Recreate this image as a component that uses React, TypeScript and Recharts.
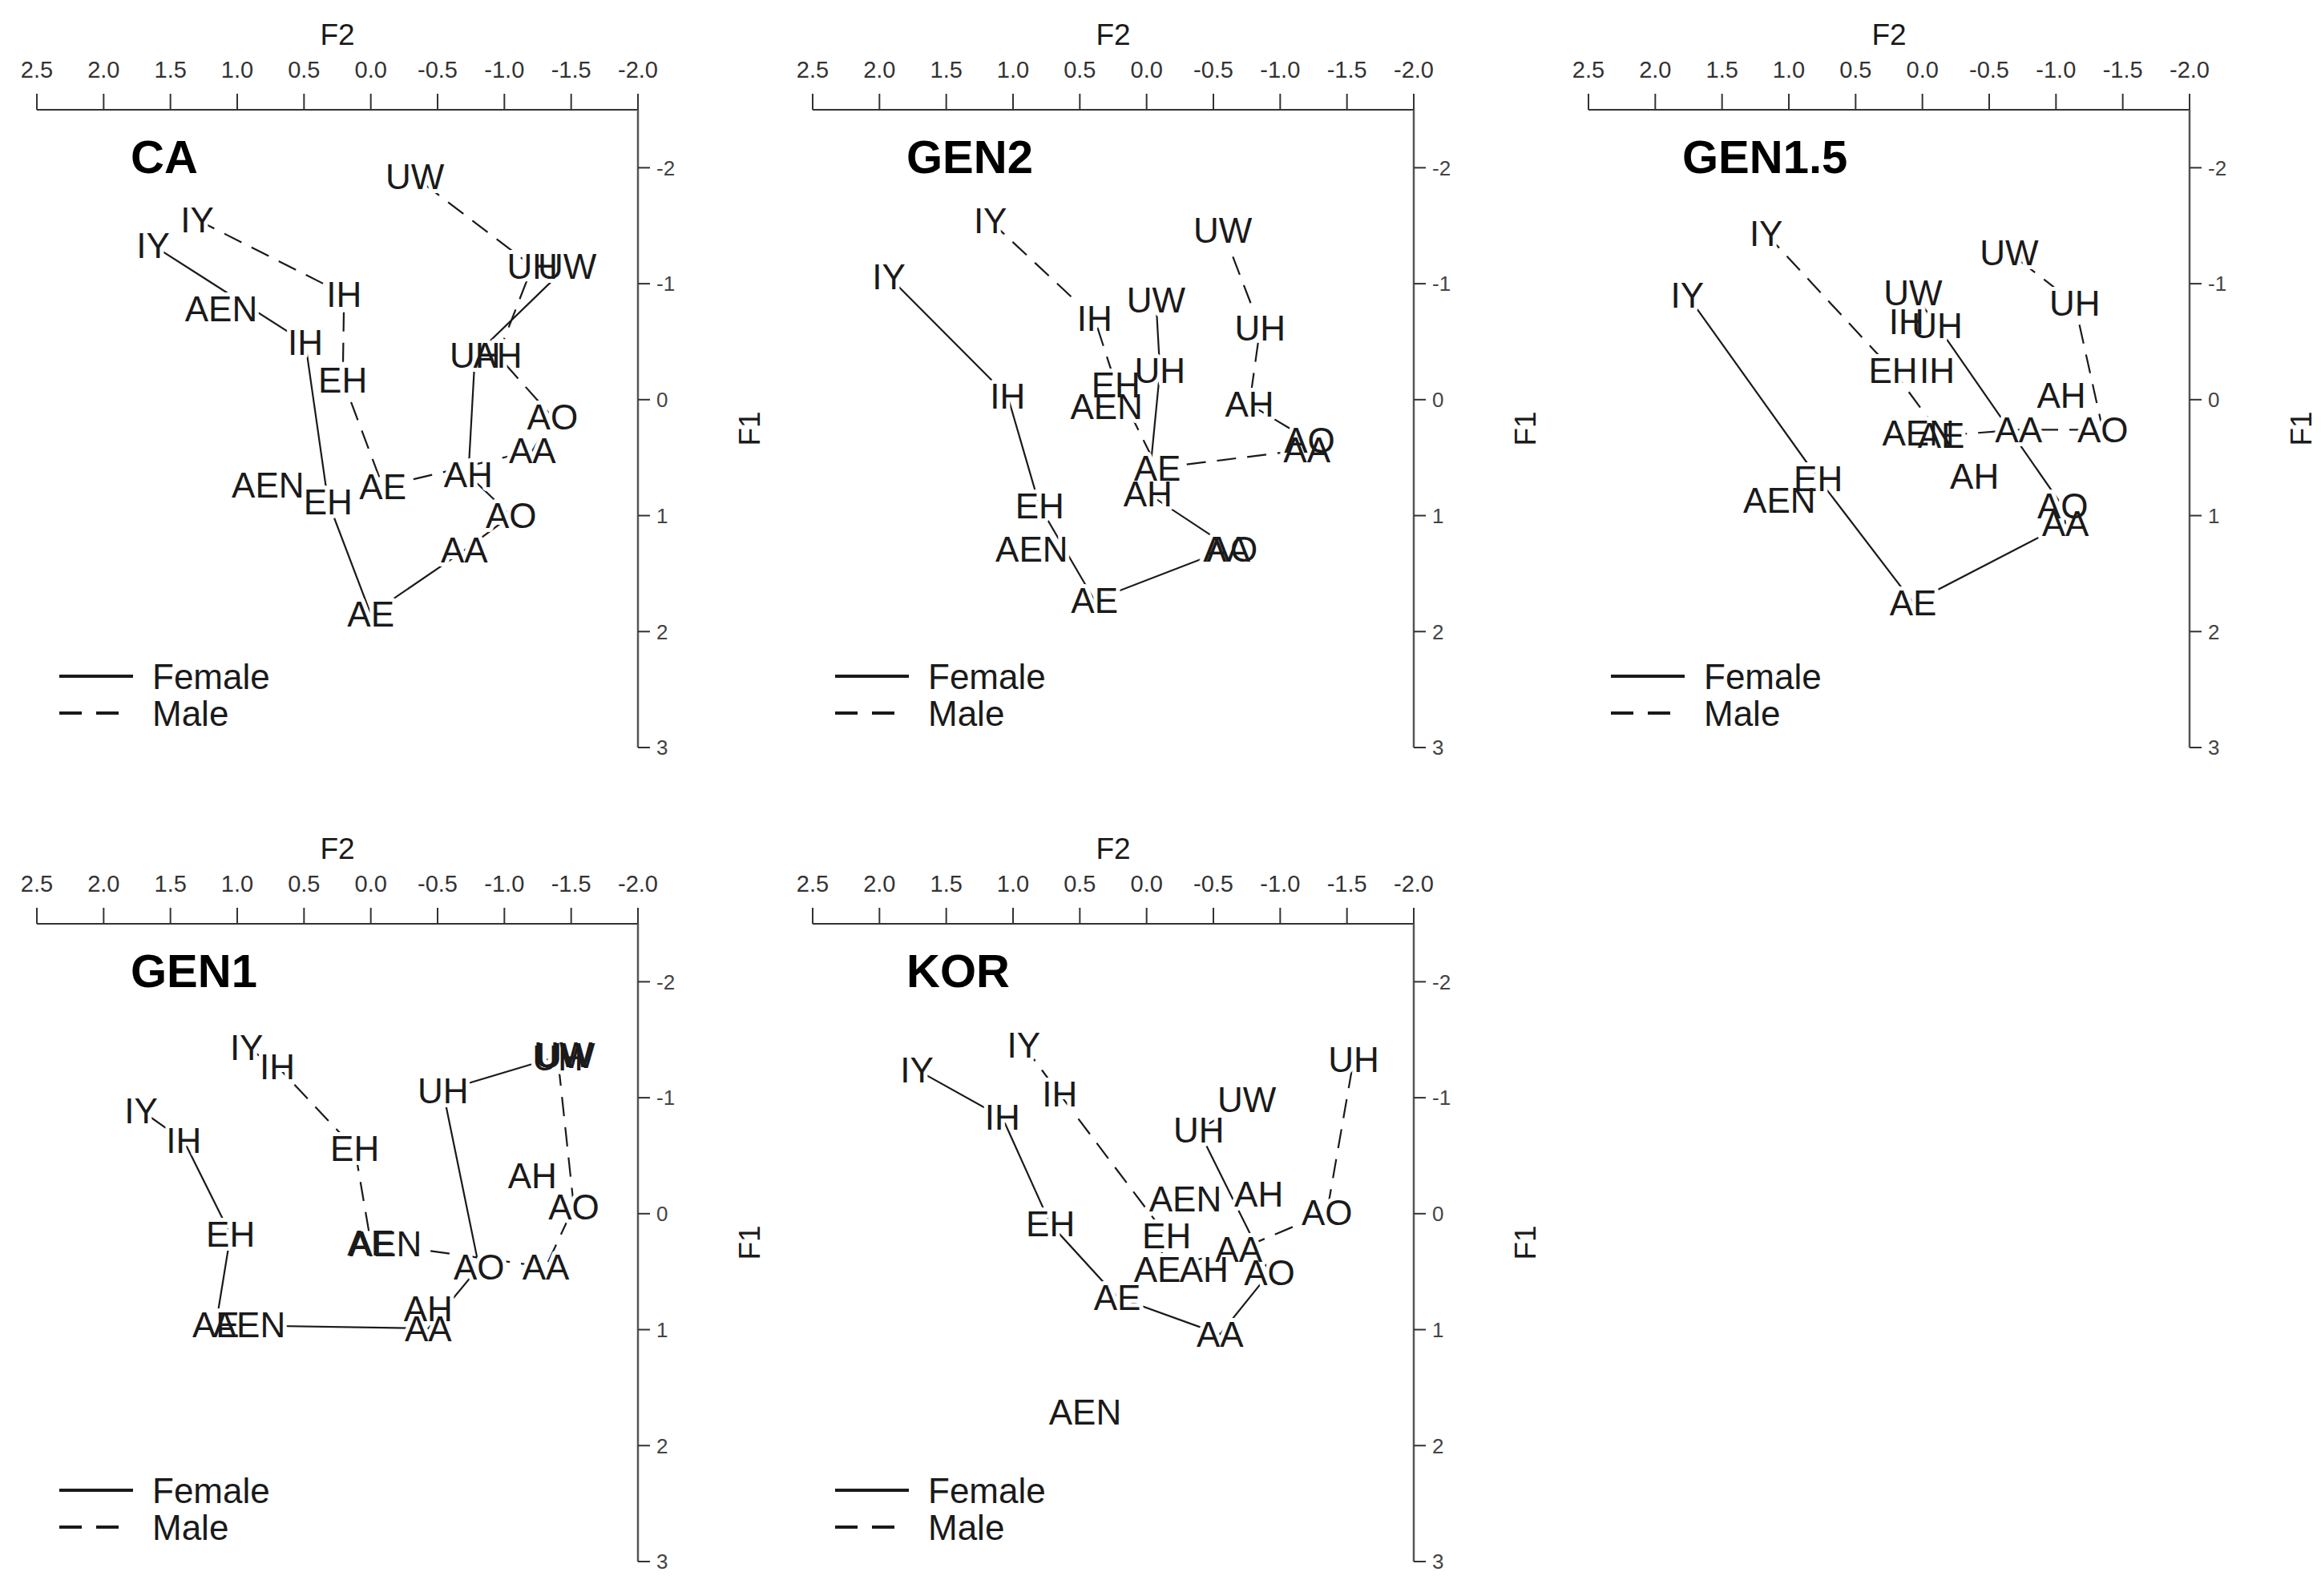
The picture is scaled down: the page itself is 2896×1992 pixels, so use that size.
import React from "react";
import { ScatterChart, Scatter, XAxis, YAxis } from "recharts";

interface Vowel {
  v: string;
  f2: number;
  f1: number;
}

const F2_TICKS = [2.5, 2.0, 1.5, 1.0, 0.5, 0.0, -0.5, -1.0, -1.5, -2.0];
const F1_TICKS = [-2, -1, 0, 1, 2, 3];

// vowel order used to draw the polygons
const PATH_ALL = ["IY", "IH", "EH", "AE", "AA", "AO", "AH", "UH", "UW"];
const PATH_NO_AH = ["IY", "IH", "EH", "AE", "AA", "AO", "UH", "UW"];
const PATH_NO_IH_AH = ["IY", "EH", "AE", "AA", "AO", "UH", "UW"];
const PATH_NO_AH_UW = ["IY", "IH", "EH", "AE", "AA", "AO", "UH"];

const CA_FEMALE: Vowel[] = [
  { v: "IY", f2: 1.63, f1: -1.33 },
  { v: "IH", f2: 0.49, f1: -0.49 },
  { v: "EH", f2: 0.32, f1: 0.88 },
  { v: "AE", f2: 0.0, f1: 1.85 },
  { v: "AA", f2: -0.7, f1: 1.3 },
  { v: "AO", f2: -1.05, f1: 1.0 },
  { v: "AH", f2: -0.73, f1: 0.65 },
  { v: "UH", f2: -0.78, f1: -0.38 },
  { v: "UW", f2: -1.47, f1: -1.15 },
  { v: "AEN", f2: 1.12, f1: -0.78 },
];
const CA_MALE: Vowel[] = [
  { v: "IY", f2: 1.3, f1: -1.55 },
  { v: "IH", f2: 0.2, f1: -0.91 },
  { v: "EH", f2: 0.21, f1: -0.17 },
  { v: "AE", f2: -0.09, f1: 0.75 },
  { v: "AA", f2: -1.21, f1: 0.44 },
  { v: "AO", f2: -1.36, f1: 0.15 },
  { v: "AH", f2: -0.95, f1: -0.38 },
  { v: "UH", f2: -1.21, f1: -1.15 },
  { v: "UW", f2: -0.33, f1: -1.92 },
  { v: "AEN", f2: 0.77, f1: 0.74 },
];

const GEN2_FEMALE: Vowel[] = [
  { v: "IY", f2: 1.93, f1: -1.06 },
  { v: "IH", f2: 1.04, f1: -0.03 },
  { v: "EH", f2: 0.8, f1: 0.92 },
  { v: "AE", f2: 0.39, f1: 1.73 },
  { v: "AA", f2: -0.6, f1: 1.29 },
  { v: "AO", f2: -0.64, f1: 1.29 },
  { v: "AH", f2: -0.01, f1: 0.81 },
  { v: "UH", f2: -0.1, f1: -0.25 },
  { v: "UW", f2: -0.07, f1: -0.86 },
  { v: "AEN", f2: 0.86, f1: 1.29 },
];
const GEN2_MALE: Vowel[] = [
  { v: "IY", f2: 1.17, f1: -1.54 },
  { v: "IH", f2: 0.39, f1: -0.7 },
  { v: "EH", f2: 0.23, f1: -0.13 },
  { v: "AE", f2: -0.08, f1: 0.59 },
  { v: "AA", f2: -1.2, f1: 0.43 },
  { v: "AO", f2: -1.22, f1: 0.35 },
  { v: "AH", f2: -0.77, f1: 0.04 },
  { v: "UH", f2: -0.85, f1: -0.62 },
  { v: "UW", f2: -0.57, f1: -1.46 },
  { v: "AEN", f2: 0.3, f1: 0.06 },
];

const GEN15_FEMALE: Vowel[] = [
  { v: "IY", f2: 1.76, f1: -0.9 },
  { v: "IH", f2: 0.12, f1: -0.67 },
  { v: "EH", f2: 0.78, f1: 0.68 },
  { v: "AE", f2: 0.07, f1: 1.75 },
  { v: "AA", f2: -1.07, f1: 1.07 },
  { v: "AO", f2: -1.05, f1: 0.92 },
  { v: "AH", f2: -0.39, f1: 0.66 },
  { v: "UH", f2: -0.11, f1: -0.64 },
  { v: "UW", f2: 0.07, f1: -0.92 },
  { v: "AEN", f2: 1.07, f1: 0.87 },
];
const GEN15_MALE: Vowel[] = [
  { v: "IY", f2: 1.17, f1: -1.43 },
  { v: "IH", f2: -0.11, f1: -0.25 },
  { v: "EH", f2: 0.22, f1: -0.25 },
  { v: "AE", f2: -0.14, f1: 0.31 },
  { v: "AA", f2: -0.72, f1: 0.26 },
  { v: "AO", f2: -1.35, f1: 0.26 },
  { v: "AH", f2: -1.04, f1: -0.04 },
  { v: "UH", f2: -1.14, f1: -0.83 },
  { v: "UW", f2: -0.65, f1: -1.27 },
  { v: "AEN", f2: 0.03, f1: 0.29 },
];

const GEN1_FEMALE: Vowel[] = [
  { v: "IY", f2: 1.72, f1: -0.89 },
  { v: "IH", f2: 1.4, f1: -0.63 },
  { v: "EH", f2: 1.05, f1: 0.18 },
  { v: "AE", f2: 1.16, f1: 0.96 },
  { v: "AA", f2: -0.43, f1: 0.99 },
  { v: "AO", f2: -0.81, f1: 0.46 },
  { v: "AH", f2: -0.43, f1: 0.82 },
  { v: "UH", f2: -0.54, f1: -1.06 },
  { v: "UW", f2: -1.44, f1: -1.37 },
  { v: "AEN", f2: 0.91, f1: 0.96 },
];
const GEN1_MALE: Vowel[] = [
  { v: "IY", f2: 0.93, f1: -1.43 },
  { v: "IH", f2: 0.7, f1: -1.27 },
  { v: "EH", f2: 0.12, f1: -0.56 },
  { v: "AE", f2: 0.0, f1: 0.25 },
  { v: "AA", f2: -1.31, f1: 0.46 },
  { v: "AO", f2: -1.52, f1: -0.06 },
  { v: "AH", f2: -1.21, f1: -0.33 },
  { v: "UH", f2: -1.4, f1: -1.34 },
  { v: "UW", f2: -1.46, f1: -1.36 },
  { v: "AEN", f2: -0.11, f1: 0.26 },
];

const KOR_FEMALE: Vowel[] = [
  { v: "IY", f2: 1.72, f1: -1.24 },
  { v: "IH", f2: 1.08, f1: -0.83 },
  { v: "EH", f2: 0.72, f1: 0.09 },
  { v: "AE", f2: 0.22, f1: 0.72 },
  { v: "AA", f2: -0.55, f1: 1.04 },
  { v: "AO", f2: -0.92, f1: 0.51 },
  { v: "AH", f2: -0.43, f1: 0.48 },
  { v: "UH", f2: -0.39, f1: -0.72 },
  { v: "UW", f2: -0.75, f1: -0.98 },
  { v: "AEN", f2: 0.46, f1: 1.71 },
];
const KOR_MALE: Vowel[] = [
  { v: "IY", f2: 0.92, f1: -1.45 },
  { v: "IH", f2: 0.65, f1: -1.03 },
  { v: "EH", f2: -0.15, f1: 0.19 },
  { v: "AE", f2: -0.08, f1: 0.48 },
  { v: "AA", f2: -0.69, f1: 0.31 },
  { v: "AO", f2: -1.35, f1: -0.01 },
  { v: "AH", f2: -0.84, f1: -0.17 },
  { v: "UH", f2: -1.55, f1: -1.33 },
  { v: "AEN", f2: -0.29, f1: -0.13 },
];

const PANELS = [
  { title: "CA", female: CA_FEMALE, male: CA_MALE, fPath: PATH_ALL, mPath: PATH_ALL, col: 0, row: 0 },
  { title: "GEN2", female: GEN2_FEMALE, male: GEN2_MALE, fPath: PATH_ALL, mPath: PATH_ALL, col: 1, row: 0 },
  { title: "GEN1.5", female: GEN15_FEMALE, male: GEN15_MALE, fPath: PATH_NO_IH_AH, mPath: PATH_NO_IH_AH, col: 2, row: 0 },
  { title: "GEN1", female: GEN1_FEMALE, male: GEN1_MALE, fPath: PATH_NO_AH, mPath: PATH_NO_AH, col: 0, row: 1 },
  { title: "KOR", female: KOR_FEMALE, male: KOR_MALE, fPath: PATH_NO_AH, mPath: PATH_NO_AH_UW, col: 1, row: 1 },
];

const FONT = "'Liberation Sans', Arial, sans-serif";
const PANEL_W = 968;
const PANEL_H = 1016;
const PLOT_L = 46;
const PLOT_T = 137;
const PLOT_R = 796;
const PLOT_B = 933;
const INK = "#1a1a1a";

const pick = (pts: Vowel[], order: string[]) =>
  order.map((v) => pts.find((p) => p.v === v)).filter(Boolean) as Vowel[];

const noShape = () => <g />;

const haloShape = (props: any) => (
  <text
    x={props.cx}
    y={props.cy}
    textAnchor="middle"
    dominantBaseline="central"
    fontSize={44}
    fontFamily={FONT}
    fill="#fff"
    stroke="#fff"
    strokeWidth={10}
    strokeLinejoin="round"
  >
    {props.payload.v}
  </text>
);

const labelShape = (props: any) => (
  <text
    x={props.cx}
    y={props.cy}
    textAnchor="middle"
    dominantBaseline="central"
    fontSize={44}
    fontFamily={FONT}
    fill={INK}
  >
    {props.payload.v}
  </text>
);

interface PanelProps {
  title: string;
  female: Vowel[];
  male: Vowel[];
  fPath: string[];
  mPath: string[];
  col: number;
  row: number;
}

const VowelPanel: React.FC<PanelProps> = ({ title, female, male, fPath, mPath, col, row }) => {
  const labels = [...female, ...male];
  return (
    <div
      style={{
        position: "absolute",
        left: col * PANEL_W,
        top: row * PANEL_H,
        width: PANEL_W,
        height: PANEL_H,
      }}
    >
      <ScatterChart
        width={PANEL_W}
        height={PANEL_H}
        margin={{ top: 0, right: 0, bottom: PANEL_H - PLOT_B, left: PLOT_L }}
      >
        <XAxis
          type="number"
          dataKey="f2"
          orientation="top"
          domain={[-2, 2.5]}
          reversed
          allowDataOverflow
          ticks={F2_TICKS}
          interval={0}
          height={PLOT_T}
          tickSize={20}
          tickMargin={20}
          tickFormatter={(v: number) => v.toFixed(1)}
          tick={{ fontSize: 29, fill: "#333", fontFamily: FONT }}
          axisLine={{ stroke: "#333", strokeWidth: 2 }}
          tickLine={{ stroke: "#333", strokeWidth: 2 }}
        />
        <YAxis
          type="number"
          dataKey="f1"
          orientation="right"
          domain={[-2.5, 3]}
          reversed
          allowDataOverflow
          ticks={F1_TICKS}
          interval={0}
          width={PANEL_W - PLOT_R}
          tickSize={15}
          tickMargin={8}
          tick={{ fontSize: 26, fill: "#444", fontFamily: FONT }}
          axisLine={{ stroke: "#555", strokeWidth: 2.5 }}
          tickLine={{ stroke: "#333", strokeWidth: 2 }}
        />
        <Scatter
          data={pick(female, fPath)}
          line={{ stroke: INK, strokeWidth: 2.2 }}
          shape={noShape}
          isAnimationActive={false}
        />
        <Scatter
          data={pick(male, mPath)}
          line={{ stroke: INK, strokeWidth: 2.2, strokeDasharray: "24 14" }}
          shape={noShape}
          isAnimationActive={false}
        />
        <Scatter data={labels} shape={haloShape} isAnimationActive={false} />
        <Scatter data={labels} shape={labelShape} isAnimationActive={false} />
      </ScatterChart>
      <svg
        width={PANEL_W}
        height={PANEL_H}
        style={{ position: "absolute", left: 0, top: 0, pointerEvents: "none" }}
      >
        <text x={(PLOT_L + PLOT_R) / 2} y={56} textAnchor="middle" fontSize={37} fontFamily={FONT} fill={INK}>
          F2
        </text>
        <text
          x={948}
          y={(PLOT_T + PLOT_B) / 2}
          textAnchor="middle"
          fontSize={37}
          fontFamily={FONT}
          fill={INK}
          transform={`rotate(-90 948 ${(PLOT_T + PLOT_B) / 2})`}
        >
          F1
        </text>
        <text x={163} y={216} fontSize={58} fontWeight="bold" fontFamily={FONT} fill="#000">
          {title}
        </text>
        <line x1={74} x2={166} y1={844} y2={844} stroke={INK} strokeWidth={4} />
        <line x1={74} x2={166} y1={890} y2={890} stroke={INK} strokeWidth={4} strokeDasharray="28 18" />
        <text x={190} y={844} dominantBaseline="central" fontSize={44} fontFamily={FONT} fill={INK}>
          Female
        </text>
        <text x={190} y={890} dominantBaseline="central" fontSize={44} fontFamily={FONT} fill={INK}>
          Male
        </text>
      </svg>
    </div>
  );
};

const App: React.FC = () => (
  <div style={{ position: "absolute", left: 0, top: 0, width: 2896, height: 1992, background: "#fff" }}>
    {PANELS.map((p) => (
      <VowelPanel key={p.title} {...p} />
    ))}
  </div>
);

export default App;
